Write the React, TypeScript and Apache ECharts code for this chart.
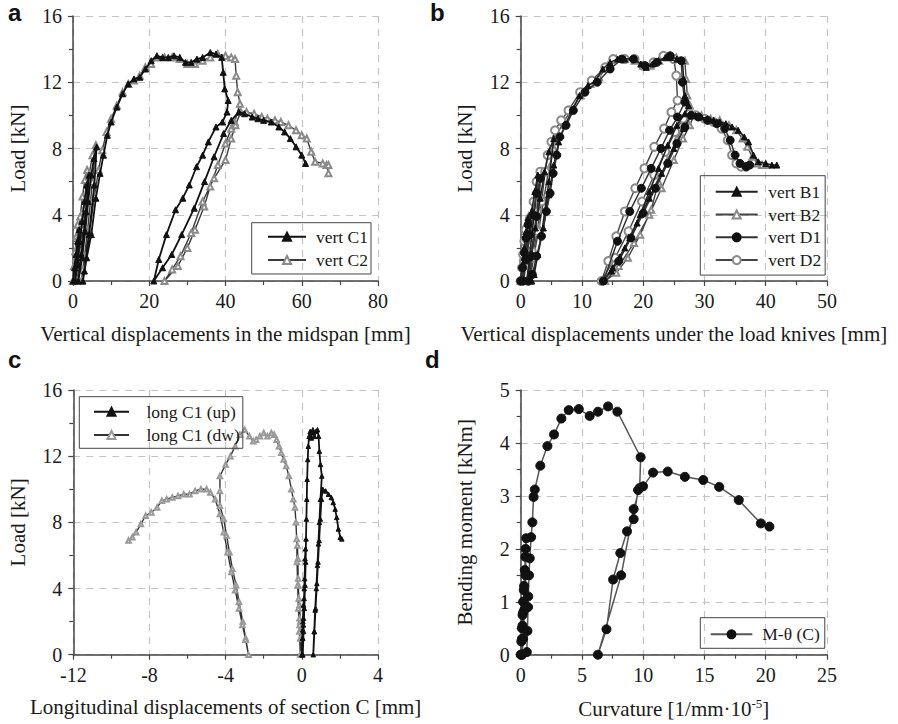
import React, { useEffect, useRef } from "react";
import * as echarts from "echarts";

// ---------- Panel a : vertical displacements in the midspan ----------
const vertC1: number[][] = [
  [0, 0], [0.4, 0.8], [0.8, 1.6], [1.2, 2.4], [1.6, 3.1], [1.0, 1.2], [0.6, 0],
  [1.2, 1.0], [1.8, 2.4], [2.4, 3.6], [3.0, 4.8], [3.6, 5.8], [4.2, 6.4],
  [3.4, 4.2], [2.2, 1.6], [1.4, 0],
  [2.4, 1.4], [3.2, 3.0], [4.0, 4.8], [4.8, 6.4], [5.5, 7.4], [6.2, 8.1],
  [5.6, 5.8], [4.2, 2.8], [3.0, 0.6], [2.6, 0],
  [3.6, 1.4], [4.8, 2.8], [6.0, 5.0], [7.1, 6.5], [8.0, 7.6], [9.0, 8.8], [10, 9.6],
  [11.5, 10.5], [13, 11.3], [14.5, 11.9], [16, 12.2], [17.5, 12.3], [19, 12.8], [20.5, 13.3],
  [22, 13.6], [23.5, 13.5], [25, 13.5], [26.5, 13.6], [28, 13.5], [29.5, 13.2], [31, 13.2],
  [32.5, 13.4], [34, 13.5], [36, 13.8], [37.5, 13.7], [39, 13.5], [39.4, 12.6], [39.8, 11.6],
  [40.7, 10.9], [40.4, 10.2],
  [39.2, 9.6], [37.5, 9.3], [35.5, 8.4], [34, 7.6], [32.4, 6.9], [30.5, 5.8], [28.8, 5.0],
  [26.9, 4.3], [24.5, 2.8], [22.5, 1.3], [21.2, 0],
  [23.5, 0.8], [25.9, 1.6], [28.5, 2.8], [31.8, 4.4], [34.5, 6.0], [37, 7.5], [39.5, 8.9],
  [41.5, 9.7], [43.5, 10.2],
  [45, 10.1], [47, 9.9], [48.5, 9.8], [50, 9.7], [52, 9.6], [54, 9.3], [55.5, 9.0], [57, 8.6],
  [58.5, 8.1], [60, 7.6], [61, 7.1]
];
const vertC2: number[][] = [
  [0, 0], [0.3, 0.9], [0.6, 1.8], [0.9, 2.7], [1.2, 3.4], [0.8, 1.4], [0.4, 0],
  [0.9, 1.2], [1.4, 2.6], [1.9, 3.9], [2.5, 5.1], [3.1, 6.1], [3.7, 6.7],
  [3.0, 4.4], [1.9, 1.7], [1.1, 0],
  [1.9, 1.6], [2.7, 3.2], [3.5, 4.9], [4.3, 6.5], [5.1, 7.6], [6.0, 8.2],
  [5.1, 6.0], [3.8, 3.0], [2.6, 0.7], [2.2, 0],
  [3.2, 1.5], [4.4, 3.0], [5.6, 5.1], [6.7, 6.7], [7.7, 7.9], [8.8, 9.0], [10, 9.8],
  [11.5, 10.6], [13, 11.4], [14.5, 11.9], [16, 12.1], [17.5, 12.4], [19, 12.9], [20.5, 13.1],
  [22, 13.5], [24, 13.5], [26, 13.5], [28, 13.4], [30, 13.1], [32, 13.1], [34, 13.3],
  [36, 13.5], [38, 13.7], [40, 13.6], [41.5, 13.5], [42.5, 13.4], [42.8, 12.4], [43.2, 11.4],
  [43.8, 10.7],
  [42.4, 9.6], [41.5, 9.2], [40, 8.3], [38, 7.0], [36, 5.7], [34.4, 4.5], [32, 3.1], [30, 2.0],
  [27.5, 0.9], [24, 0],
  [26, 0.7], [28.2, 1.5], [31, 2.9], [34, 4.8], [37, 6.2], [40, 7.3], [41.5, 8.6], [42.6, 9.4],
  [44, 10.2],
  [45.5, 10.2], [47.5, 10.1], [49.5, 9.9], [51, 9.8], [53, 9.7], [54.5, 9.6], [56.5, 9.4],
  [58.5, 9.1], [60, 8.8], [61.3, 8.6], [62.5, 7.8], [63.5, 7.2], [65.5, 7.1], [66.5, 7.0],
  [67, 6.5], [67, 7.0]
];

// ---------- Panel b : vertical displacements under the load knives ----------
const vertB1: number[][] = [
  [0, 0], [0.3, 1.0], [0.6, 2.0], [0.9, 3.0], [1.2, 3.8], [0.7, 1.4], [0.3, 0],
  [0.8, 1.4], [1.3, 2.8], [1.8, 4.2], [2.3, 5.4], [2.8, 6.4], [2.2, 4.0], [1.4, 1.4], [1.0, 0],
  [1.7, 1.6], [2.4, 3.2], [3.2, 5.0], [3.9, 6.6], [4.6, 7.8], [5.4, 8.6],
  [4.6, 6.0], [3.4, 2.8], [2.2, 0.4], [1.8, 0],
  [2.8, 1.6], [3.7, 3.2], [4.6, 5.2], [5.4, 7.0], [6.2, 8.4], [7.2, 9.4], [8.4, 10.3],
  [9.6, 11.2], [11, 11.8], [12.2, 12.1], [13.4, 12.8], [14.6, 13.2], [15.8, 13.4], [17, 13.4],
  [18.5, 13.4], [19.6, 13.1], [20.5, 12.9], [21.5, 13.1], [22.5, 13.3], [23.6, 13.5],
  [24.5, 13.5], [25.5, 13.4], [26.4, 13.3], [26.6, 12.2], [26.8, 11.2], [27.4, 10.6],
  [26.8, 10.1], [25.5, 9.4], [24, 8.2], [22.5, 6.8], [21, 5.4], [19.5, 4.0], [17.8, 2.6],
  [16.2, 1.45], [14.8, 0.6], [13.4, 0],
  [15, 0.8], [17, 2.0], [19, 3.5], [21, 5.0], [23, 6.5], [25, 8.0], [26.6, 9.2], [27.8, 10.0],
  [28.5, 10.0], [29.5, 9.9], [30.5, 9.8], [31.5, 9.7], [32.5, 9.6], [33.5, 9.5], [34.5, 9.3],
  [35.5, 9.1], [36.5, 8.7], [37.2, 8.4], [38, 7.6], [38.8, 7.2], [40, 7.1], [41, 7.0], [41.8, 7.0]
];
const vertB2: number[][] = [
  [0, 0], [0.3, 1.0], [0.6, 2.0], [0.9, 3.0], [1.3, 3.9], [0.9, 1.6], [0.5, 0],
  [1.0, 1.5], [1.6, 3.0], [2.2, 4.5], [2.8, 5.6], [3.4, 6.6], [2.8, 4.4], [2.0, 1.8], [1.5, 0],
  [2.2, 1.6], [3.0, 3.2], [3.8, 5.0], [4.6, 6.8], [5.4, 8.0], [6.0, 8.9], [7.0, 9.6],
  [8.2, 10.3], [9.8, 11.2], [11.4, 11.9], [12.8, 12.3], [14.2, 13.0], [15.6, 13.4], [17, 13.4],
  [18.6, 13.3], [20.0, 13.0], [21.2, 13.0], [22.6, 13.3], [24, 13.5], [25.4, 13.5], [26.8, 13.3],
  [27.0, 12.2], [27.2, 11.2], [27.6, 10.6],
  [26.8, 9.7], [25.5, 8.6], [24, 7.3], [22.5, 6.0], [21.3, 4.3], [19.5, 2.8], [17.5, 1.4],
  [15.6, 0.5], [13.8, 0],
  [16, 0.9], [18.5, 2.3], [21, 4.0], [23, 5.6], [25, 7.3], [26.5, 8.6], [27.6, 9.4], [28.3, 10.0],
  [29.5, 10.0], [31, 9.8], [32.5, 9.7], [34, 9.4], [35.2, 9.1], [36.2, 8.6], [37, 8.1],
  [37.8, 7.5], [38.6, 7.1], [39.4, 7.0], [40, 7.0]
];
const vertD1: number[][] = [
  [0, 0], [0.3, 0.8], [0.6, 1.7], [0.9, 2.6], [1.2, 3.4], [0.8, 1.3], [0.4, 0],
  [0.9, 1.3], [1.5, 2.8], [2.0, 4.0], [2.6, 5.3], [3.2, 6.2], [2.6, 3.9], [1.8, 1.5], [1.3, 0],
  [1.9, 0.4], [2.6, 1.5], [3.4, 2.7], [4.2, 4.2], [4.8, 5.3], [5.3, 6.5], [5.9, 7.6],
  [6.4, 8.7], [7.4, 9.4], [8.6, 10.3], [10.5, 11.4], [12.5, 12.0], [14.6, 12.8], [16.5, 13.4],
  [18.4, 13.4], [20.3, 13.0], [22.2, 13.2], [24.4, 13.6], [26.2, 13.3], [26.4, 12.0], [26.8, 10.8],
  [25.6, 9.9], [24.3, 9.1], [22.9, 8.0], [21.3, 6.8], [19.7, 5.6], [17.8, 4.2], [15.8, 2.4],
  [13.5, 0],
  [16, 1.2], [18, 2.6], [20, 4.1], [22, 5.6], [24, 7.1], [25.5, 8.3], [26.8, 9.3], [27.8, 10.0],
  [29, 9.9], [30.5, 9.7], [32, 9.5], [33.3, 9.2], [34.2, 8.5], [35, 7.6], [35.8, 7.1],
  [36.8, 6.9], [37.4, 7.0]
];
const vertD2: number[][] = [
  [0, 0], [0.2, 0.8], [0.4, 1.6], [0.6, 2.4], [0.8, 3.1], [0.5, 1.2], [0.2, 0],
  [0.6, 1.2], [1.0, 2.5], [1.5, 3.8], [2.1, 4.8], [2.6, 6.0], [3.2, 6.6], [2.6, 4.2], [1.8, 1.8],
  [1.2, 0],
  [1.9, 1.4], [2.7, 3.0], [3.4, 4.8], [4.0, 6.6], [4.4, 7.6], [5.0, 8.4], [5.6, 9.1], [6.6, 9.7],
  [7.8, 10.3], [9.7, 11.4], [11.6, 12.1], [13.8, 12.9], [15.1, 13.4], [17.0, 13.4], [18.6, 13.4],
  [20.0, 13.0], [21.7, 13.2], [23.3, 13.6], [25.0, 13.4], [25.4, 12.4], [25.6, 10.9],
  [24.6, 10.2], [23.4, 9.2], [21.8, 8.1], [20.2, 6.8], [18.7, 5.6], [17.0, 4.2], [15.6, 2.7],
  [14.3, 1.2], [13.2, 0],
  [15.4, 1.4], [17.6, 3.0], [19.8, 4.8], [21.8, 6.4], [23.6, 7.8], [25.2, 9.0], [26.5, 9.8],
  [27.6, 10.1],
  [28.6, 10.0], [30, 9.8], [31.5, 9.6], [32.8, 9.2], [33.8, 8.5], [34.5, 7.6], [35.2, 7.1],
  [36, 6.9], [36.8, 6.9]
];

// ---------- Panel c : longitudinal displacements of section C ----------
const longUp: number[][] = [
  [0, 0], [0.03, 1.0], [0.06, 2.0], [0.09, 3.0], [0.05, 1.5], [0.02, 0],
  [0.05, 1.0], [0.09, 2.2], [0.12, 3.4], [0.15, 4.6], [0.17, 5.8], [0.19, 6.4],
  [0.13, 4.0], [0.08, 1.8], [0.05, 0],
  [0.09, 1.4], [0.13, 2.8], [0.17, 4.2], [0.2, 5.6], [0.22, 7.0], [0.24, 8.2], [0.26, 9.4],
  [0.28, 10.6], [0.31, 11.8], [0.34, 12.6], [0.38, 13.2], [0.44, 13.5], [0.5, 13.1], [0.58, 13.6],
  [0.66, 13.2], [0.75, 13.5], [0.82, 13.6], [0.88, 13.2], [0.92, 12.3], [0.98, 11.5], [1.05, 10.8],
  [0.98, 9.4], [0.92, 8.0], [0.87, 6.7], [0.82, 5.4], [0.76, 4.0], [0.7, 2.7], [0.65, 1.4], [0.6, 0],
  [0.66, 1.4], [0.72, 2.8], [0.79, 4.3], [0.85, 5.6], [0.91, 6.9], [0.97, 8.2], [1.03, 9.4],
  [1.1, 10.0],
  [1.25, 9.9], [1.4, 9.7], [1.55, 9.5], [1.65, 9.2], [1.75, 8.8], [1.83, 8.3], [1.92, 7.6],
  [2.02, 7.1], [2.1, 7.0]
];
const longDw: number[][] = [
  [0, 0], [-0.04, 1.0], [-0.08, 2.0], [-0.12, 3.0], [-0.08, 1.5], [-0.04, 0],
  [-0.08, 1.0], [-0.12, 2.2], [-0.16, 3.4], [-0.19, 4.6], [-0.21, 5.8], [-0.23, 6.6],
  [-0.18, 4.2], [-0.12, 1.8], [-0.08, 0],
  [-0.13, 1.4], [-0.18, 2.8], [-0.22, 4.2], [-0.25, 5.6], [-0.27, 7.0], [-0.31, 8.0],
  [-0.36, 8.9], [-0.45, 9.4], [-0.55, 10.0], [-0.68, 10.8], [-0.82, 11.4], [-0.95, 11.8],
  [-1.08, 12.2], [-1.2, 12.6], [-1.32, 13.0], [-1.45, 13.3], [-1.6, 13.4], [-1.8, 13.2],
  [-2.0, 13.4], [-2.2, 13.2], [-2.4, 13.0], [-2.55, 12.9], [-2.75, 13.2], [-3.0, 13.6],
  [-3.25, 13.3], [-3.5, 12.6], [-3.75, 12.0], [-4.0, 11.5], [-4.3, 10.8], [-4.3, 9.9], [-4.3, 9.0],
  [-4.1, 8.2], [-3.95, 7.2], [-3.8, 6.2], [-3.65, 5.2], [-3.45, 4.2], [-3.3, 3.2], [-3.1, 2.0],
  [-2.95, 1.0], [-2.8, 0],
  [-2.95, 0.9], [-3.12, 1.8], [-3.3, 2.8], [-3.5, 3.9], [-3.7, 5.0], [-3.9, 6.2], [-4.1, 7.4],
  [-4.3, 8.5], [-4.55, 9.4], [-4.8, 9.8],
  [-5.0, 10.0], [-5.3, 10.0], [-5.6, 9.9], [-5.9, 9.7], [-6.2, 9.7], [-6.5, 9.6], [-6.8, 9.5],
  [-7.1, 9.4], [-7.35, 9.3], [-7.6, 8.9], [-7.9, 8.6], [-8.2, 8.4], [-8.45, 7.9], [-8.7, 7.4],
  [-8.9, 7.1], [-9.1, 6.9]
];

// ---------- Panel d : moment-curvature ----------
const mTheta: number[][] = [
  [0, 0], [0.05, 0.25], [0.1, 0.5], [0.15, 0.75], [0.2, 1.0], [0.25, 1.22], [0.15, 0.55], [0.05, 0],
  [0.1, 0.3], [0.2, 0.8], [0.28, 1.3], [0.33, 1.6], [0.38, 1.85], [0.4, 2.0], [0.45, 2.2],
  [0.4, 1.5], [0.3, 0.85], [0.2, 0.3], [0.12, 0],
  [0.5, 0.05], [0.55, 0.45], [0.6, 0.9], [0.62, 1.1], [0.68, 1.5], [0.74, 1.82], [0.85, 2.22],
  [0.95, 2.5], [1.05, 2.98], [1.15, 3.12], [1.6, 3.57], [2.18, 3.94], [2.72, 4.16], [3.32, 4.46],
  [3.92, 4.62], [4.74, 4.64], [5.63, 4.51], [6.31, 4.59], [7.13, 4.69], [7.89, 4.59], [9.79, 3.73],
  [9.71, 3.15], [9.22, 2.75], [8.2, 1.5], [6.3, 0],
  [7.0, 0.48], [7.54, 1.42], [8.13, 1.92], [8.68, 2.33], [9.22, 2.56], [9.58, 3.11], [9.99, 3.18],
  [10.8, 3.44], [12.0, 3.46], [13.4, 3.36], [14.9, 3.30], [16.2, 3.17], [17.8, 2.92],
  [19.6, 2.48], [20.3, 2.42]
];

const xNames = [
  "Vertical displacements in the midspan [mm]",
  "Vertical displacements under the load knives [mm]",
  "Longitudinal displacements of section C [mm]",
  "Curvature [1/mm·10{sup|-5}]"
];
const yNames = ["Load [kN]", "Load [kN]", "Load [kN]", "Bending moment [kNm]"];
const panelLetters = ["a", "b", "c", "d"];

const SERIF = '"Liberation Serif", "Times New Roman", serif';
const AX = "#444444";

function axisCommon() {
  return {
    axisLine: { show: true, onZero: false, lineStyle: { color: AX, width: 1.5 } },
    axisTick: { show: true, inside: false, length: 5, lineStyle: { color: AX, width: 1.2 } },
    minorTick: { show: true, splitNumber: 2, length: 4, lineStyle: { color: AX, width: 1.2 } },
    splitLine: { show: true, lineStyle: { color: "#c4c4c4", width: 1.2, type: [7, 6] } },
    axisLabel: { fontFamily: SERIF, fontSize: 20, color: "#1a1a1a" },
    nameLocation: "middle" as const,
    nameTextStyle: {
      fontFamily: SERIF, fontSize: 21, color: "#1a1a1a",
      rich: { sup: { fontFamily: SERIF, fontSize: 13, color: "#1a1a1a", padding: [0, 0, 12, 0] } }
    }
  };
}

function xAxis(i: number, min: number, max: number, interval: number) {
  const c = axisCommon();
  return {
    type: "value", gridIndex: i, min, max, interval, name: xNames[i], nameGap: 42,
    ...c, axisLabel: { ...c.axisLabel, margin: 10 }
  };
}
function yAxis(i: number, min: number, max: number, interval: number) {
  const c = axisCommon();
  return {
    type: "value", gridIndex: i, min, max, interval, name: yNames[i], nameGap: 45,
    ...c, axisLabel: { ...c.axisLabel, margin: 11 }
  };
}

function line(name: string, data: number[][], idx: number, symbol: string, color: string,
  lineColor: string, lw: number, size: number, z: number) {
  return {
    type: "line", name, data, xAxisIndex: idx, yAxisIndex: idx, symbol, symbolSize: size,
    showSymbol: true, showAllSymbol: true, z,
    itemStyle: { color, borderColor: color, borderWidth: 1 },
    lineStyle: { color: lineColor, width: lw },
    emphasis: { disabled: true }
  };
}

function legend(names: string[], left: number, top: number, pad: number[], itemWidth: number,
  gap: number, textPad: number) {
  return {
    data: names, orient: "vertical", left, top, padding: pad, itemWidth, itemHeight: 10,
    itemGap: gap, borderColor: "#444", borderWidth: 1, borderRadius: 0, selectedMode: false,
    textStyle: { fontFamily: SERIF, fontSize: 17.5, color: "#1a1a1a", lineHeight: 18, padding: [0, 0, 0, textPad] }
  };
}

export default function App() {
  const ref = useRef<HTMLDivElement>(null);
  useEffect(() => {
    if (!ref.current) return;
    const chart = echarts.init(ref.current, undefined, { renderer: "svg" });
    const grids = [
      { left: 73, top: 16, width: 305, height: 265 },
      { left: 520.7, top: 16, width: 306.3, height: 265 },
      { left: 73.3, top: 390, width: 304.7, height: 264.7 },
      { left: 520.7, top: 390, width: 306.3, height: 264.7 }
    ];
    const letterPos = [[8, 0], [430, 0], [8, 347], [425, 347]];
    chart.setOption({
      animation: false,
      backgroundColor: "#ffffff",
      grid: grids,
      xAxis: [xAxis(0, 0, 80, 20), xAxis(1, 0, 50, 10), xAxis(2, -12, 4, 4), xAxis(3, 0, 25, 5)],
      yAxis: [yAxis(0, 0, 16, 4), yAxis(1, 0, 16, 4), yAxis(2, 0, 16, 4), yAxis(3, 0, 5, 1)],
      legend: [
        legend(["vert C1", "vert C2"], 251.7, 222.7, [5, 3, 5, 15.3], 38, 5.3, 5),
        legend(["vert B1", "vert B2", "vert D1", "vert D2"], 700.3, 175.7, [7, 4, 6, 14.4], 42, 4.8, 5.5),
        legend(["long C1 (up)", "long C1 (dw)"], 79.3, 396.7, [6, 3, 4.3, 13.7], 35, 5.3, 12.5),
        legend(["M-θ (C)"], 700.3, 617.7, [7.6, 5, 5, 9.4], 41.6, 5, 5)
      ],
      graphic: panelLetters.map((t, i) => ({
        type: "text", left: letterPos[i][0], top: letterPos[i][1],
        style: { text: t, fontFamily: '"Liberation Sans", Arial, sans-serif', fontWeight: "bold", fontSize: 24, fill: "#111" }
      })),
      series: [
        line("vert C2", vertC2, 0, "emptyTriangle", "#8a8a8a", "#3a3a3a", 1.4, 6, 3),
        line("vert C1", vertC1, 0, "triangle", "#111", "#111", 1.8, 6, 4),
        line("vert B2", vertB2, 1, "emptyTriangle", "#8a8a8a", "#444", 1.4, 6, 3),
        line("vert D2", vertD2, 1, "emptyCircle", "#8a8a8a", "#444", 1.4, 8, 3),
        line("vert B1", vertB1, 1, "triangle", "#111", "#222", 1.6, 6, 4),
        line("vert D1", vertD1, 1, "circle", "#111", "#333", 1.5, 8, 4),
        line("long C1 (dw)", longDw, 2, "emptyTriangle", "#999", "#333", 1.4, 4.5, 3),
        line("long C1 (up)", longUp, 2, "triangle", "#111", "#111", 1.8, 4.5, 4),
        line("M-θ (C)", mTheta, 3, "circle", "#111", "#555", 1.5, 9, 4)
      ]
    });
    return () => chart.dispose();
  }, []);
  return <div ref={ref} style={{ position: "fixed", left: 0, top: 0, width: 898, height: 724, background: "#fff" }} />;
}
